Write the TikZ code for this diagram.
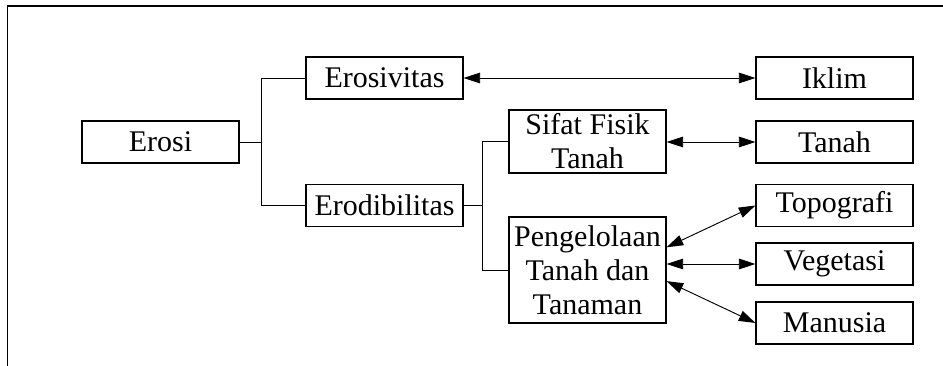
\documentclass[tikz,border=0pt]{standalone}
\usepackage{fontspec}
\setmainfont{Liberation Serif}
\usepackage{tikz}
\usetikzlibrary{shapes,arrows.meta,positioning}

\tikzset{
  kotak/.style={draw, line width=0.8pt, inner sep=0pt, align=center,
    minimum width=117.75pt, minimum height=31.5pt,
    font=\fontsize{22.5}{25.5}\selectfont},
  garis/.style={line width=0.7pt},
  panah/.style={line width=0.7pt, {Triangle[length=12.5pt,width=8pt]}-{Triangle[length=12.5pt,width=8pt]}}
}

\begin{document}
\begin{tikzpicture}[x=0.75pt,y=-0.75pt]
    \useasboundingbox (0,0) rectangle (943,366);
    % bingkai
    \draw[line width=1pt] (943,6) -- (7.5,6) -- (7.5,366);

    % faktor erosi
    \node[kotak] (erosi) at (160.5,142) {Erosi};
    \node[kotak] (erosivitas) at (384.5,78) {Erosivitas};
    \node[kotak] (erodibilitas) at (384.5,205.5) {Erodibilitas};
    \node[kotak, minimum height=47.25pt] (sifat) at (587.5,141.5) {Sifat Fisik\\Tanah};
    \node[kotak, minimum height=79.5pt] (kelola) at (587.5,270) {Pengelolaan\\Tanah dan\\Tanaman};

    % faktor luar
    \node[kotak] (iklim) at (834.5,78) {Iklim};
    \node[kotak] (tanah) at (834.5,142) {Tanah};
    \node[kotak] (topografi) at (834.5,205.5) {Topografi};
    \node[kotak] (vegetasi) at (834.5,264) {Vegetasi};
    \node[kotak] (manusia) at (834.5,323) {Manusia};

    % percabangan
    \draw[garis] (erosi.east) -- ++(22,0) coordinate (cab1);
    \draw[garis] (cab1) |- (erosivitas.west);
    \draw[garis] (cab1) |- (erodibilitas.west);
    \draw[garis] (erodibilitas.east) -- ++(19,0) coordinate (cab2);
    \draw[garis] (cab2) |- (sifat.west);
    \draw[garis] (cab2) |- (kelola.west);

    % hubungan timbal balik
    \draw[panah] (erosivitas.east) -- (iklim.west);
    \draw[panah] (sifat.east |- tanah.west) -- (tanah.west);
    \draw[panah] (kelola.16) -- (topografi.west);
    \draw[panah] (kelola.east |- vegetasi.west) -- (vegetasi.west);
    \draw[panah] (kelola.-8) -- (manusia.west);
\end{tikzpicture}
\end{document}
